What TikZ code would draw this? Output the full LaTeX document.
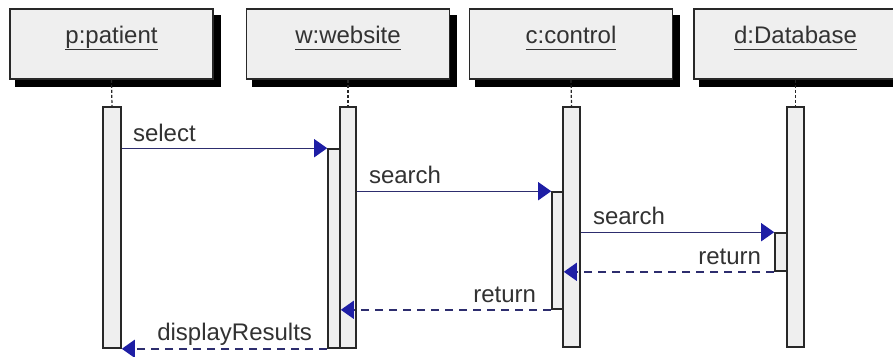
\documentclass[tikz,border=0pt]{standalone}
\usepackage{fontspec}
\setmainfont{Liberation Sans}
\usetikzlibrary{arrows.meta,backgrounds}
\definecolor{boxfill}{RGB}{239,239,239}
\definecolor{edge}{RGB}{40,40,40}
\definecolor{msgline}{RGB}{45,45,110}
\definecolor{tipcol}{RGB}{30,30,165}
\definecolor{txt}{RGB}{50,50,50}
\newcommand{\ulab}[1]{\underline{#1\vphantom{p}}}
\begin{document}
\begin{tikzpicture}[x=1pt,y=-1pt,
  headbox/.style={draw=edge,line width=1.6pt,fill=boxfill,minimum width=203pt,minimum height=70pt,inner sep=0pt},
  shadowbox/.style={fill=black},
  headtxt/.style={font=\fontsize{24}{28}\selectfont,text=txt,anchor=base,inner sep=0pt},
  bar/.style={draw=edge,line width=1.6pt,fill=boxfill,inner sep=0pt},
  life/.style={draw=edge,line width=1.2pt,dash pattern=on 3pt off 2pt},
  msg/.style={draw=msgline,line width=1.4pt,-{Triangle[length=13pt,width=18pt,color=tipcol]}},
  ret/.style={msg,dash pattern=on 8pt off 6pt},
  lbl/.style={font=\fontsize{24}{28}\selectfont,text=txt,inner sep=0pt}]
\useasboundingbox (0,0) rectangle (893,356);
% heads
\node[headbox] (hp) at (111.5,44) {};
\node[headbox] (hw) at (348,44) {};
\node[headbox] (hc) at (571,44) {};
\node[headbox] (hd) at (795.5,44) {};
\begin{scope}[on background layer]
  \foreach \h in {hp,hw,hc,hd}
    \fill[shadowbox] ([shift={(6,7)}]\h.south west) rectangle ([shift={(7,7)}]\h.north east);
\end{scope}
\node[headtxt] (tp) at (111.5,43) {\ulab{p:patient}};
\node[headtxt] (tw) at (348,43) {\ulab{w:website}};
\node[headtxt] (tc) at (571,43) {\ulab{c:control}};
\node[headtxt] (td) at (795.5,43) {\ulab{d:Database}};
% activation bars
\node[bar,minimum width=18pt,minimum height=241pt] (pb) at (112,227.5) {};
\node[bar,minimum width=16pt,minimum height=241pt] (wb) at (348,227.5) {};
\node[bar,minimum width=17pt,minimum height=240pt] (cb) at (571.5,227) {};
\node[bar,minimum width=17pt,minimum height=240pt] (db) at (795.5,227) {};
\node[bar,minimum width=12pt,minimum height=199pt] (wn) at (334,248.5) {};
\node[bar,minimum width=11pt,minimum height=117pt] (cn) at (557.5,250.5) {};
\node[bar,minimum width=12pt,minimum height=38pt] (dn) at (781,252) {};
% lifelines
\draw[life] (hp.south) -- (pb.north);
\draw[life] (hw.south) -- (wb.north);
\draw[life] (hc.south) -- (cb.north);
\draw[life] (hd.south) -- (db.north);
% messages
\draw[msg] (pb.east |- wn.north) -- (wn.north west);
\draw[msg] (wb.east |- cn.north) -- (cn.north west);
\draw[msg] (cb.east |- dn.north) -- (dn.north west);
\draw[ret] (dn.south west) -- (cn.east |- dn.south);
\draw[ret] (cn.south west) -- (wn.east |- cn.south);
\draw[ret] (wn.south west) -- (pb.east |- wn.south);
% labels
\node[lbl,anchor=base west] (l1) at ([shift={(11,-7)}]pb.east |- wn.north) {select};
\node[lbl,anchor=base west] (l2) at ([shift={(12,-8)}]wb.east |- cn.north) {search};
\node[lbl,anchor=base west] (l3) at ([shift={(12,-8)}]cb.east |- dn.north) {search};
\node[lbl,anchor=base east] (l4) at ([shift={(-13,-7)}]dn.south west) {return};
\node[lbl,anchor=base east] (l5) at ([shift={(-15,-7)}]cn.south west) {return};
\node[lbl,anchor=base east] (l6) at ([shift={(-15,-8)}]wn.south west) {displayResults};
\end{tikzpicture}
\end{document}
